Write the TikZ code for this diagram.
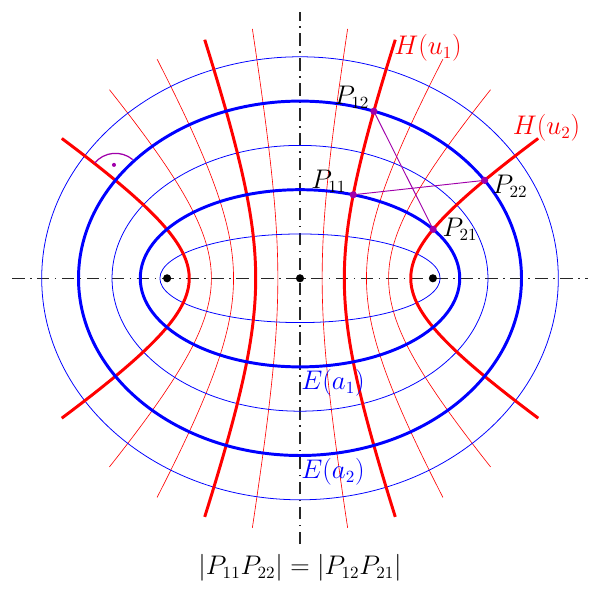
\documentclass[tikz,border=0pt]{standalone}
\definecolor{pur}{RGB}{160,0,170}
\begin{document}
\begin{tikzpicture}[
  thinE/.style={blue, line width=0.5pt},
  boldE/.style={blue, line width=1.9pt},
  thinH/.style={red, line width=0.4pt},
  boldH/.style={red, line width=1.9pt},
  axisline/.style={black!85, line width=0.75pt, dash pattern=on 8pt off 3.5pt on 1pt off 3.5pt},
  pdot/.style={circle, fill=pur, inner sep=0pt, minimum size=4.6pt},
  fdot/.style={circle, fill=black, inner sep=0pt, minimum size=5.2pt},
  rdot/.style={circle, fill=pur, inner sep=0pt, minimum size=2.6pt},
  purline/.style={pur, line width=0.6pt},
  lbl/.style={font=\fontsize{16}{19}\selectfont, inner sep=0pt},
]
\useasboundingbox (-6.772,-7.081) rectangle (6.772,6.282);

% axes
\coordinate (xl) at (-6.5,0);
\coordinate (xr) at (6.5,0);
\coordinate (yb) at (0,-6);
\coordinate (yt) at (0,6);
\draw[axisline] (xl) -- (xr);
\draw[axisline] (yb) -- (yt);

% thin hyperbolas
\foreach \u in {0.5,1,1.5,2,2.5} {
  \pgfmathsetmacro\v{sqrt(9-\u*\u)}
  \draw[thinH] plot[domain=-1.4:1.4, samples=60, smooth] ({\u*cosh(\x)}, {\v*sinh(\x)});
  \draw[thinH] plot[domain=-1.4:1.4, samples=60, smooth] ({-\u*cosh(\x)}, {\v*sinh(\x)});
}
% thin ellipses
\foreach \b in {1,2,3,4,5} {
  \pgfmathsetmacro\a{sqrt(9+\b*\b)}
  \draw[thinE] (0,0) ellipse [x radius=\a, y radius=\b];
}
% bold hyperbolas
\foreach \u in {1,2.5} {
  \pgfmathsetmacro\v{sqrt(9-\u*\u)}
  \draw[boldH] plot[domain=-1.4:1.4, samples=70, smooth] ({\u*cosh(\x)}, {\v*sinh(\x)});
  \draw[boldH] plot[domain=-1.4:1.4, samples=70, smooth] ({-\u*cosh(\x)}, {\v*sinh(\x)});
}
% bold ellipses
\foreach \b in {2,4} {
  \pgfmathsetmacro\a{sqrt(9+\b*\b)}
  \draw[boldE] (0,0) ellipse [x radius=\a, y radius=\b];
}

% foci and centre
\node[fdot] (f1) at (-3,0) {};
\node[fdot] (f2) at (3,0) {};
\node[fdot] (o) at (0,0) {};

% points
\coordinate (c11) at (1.20185,1.88562);
\coordinate (c12) at (1.66667,3.77124);
\coordinate (c21) at (3.00463,1.10554);
\coordinate (c22) at (4.16667,2.21108);
\draw[purline] (c11) -- (c22);
\draw[purline] (c12) -- (c21);
\node[pdot] (p11) at (c11) {};
\node[pdot] (p12) at (c12) {};
\node[pdot] (p21) at (c21) {};
\node[pdot] (p22) at (c22) {};

% right angle mark
\coordinate (q) at (-4.16667,2.21108);
\draw[pur, line width=0.8pt] ([shift={(50.33:0.61)}]q) arc[start angle=50.33, end angle=140.33, radius=0.61];
\node[rdot] (rd) at ([shift={(95.33:0.35)}]q) {};

% labels
\node[lbl, red] (hu1) at (2.89,5.2) {$H(u_1)$};
\node[lbl, red] (hu2) at (5.565,3.39) {$H(u_2)$};
\node[lbl] (l12) at (1.17,4.09) {$P_{12}$};
\node[lbl] (l11) at (0.65,2.20) {$P_{11}$};
\node[lbl] (l22) at (4.74,2.08) {$P_{22}$};
\node[lbl] (l21) at (3.61,1.11) {$P_{21}$};
\node[lbl, blue] (ea1) at (0.745,-2.36) {$E(a_1)$};
\node[lbl, blue] (ea2) at (0.745,-4.37) {$E(a_2)$};
\node[lbl] (eq) at (0,-6.53) {$|P_{11}P_{22}| = |P_{12}P_{21}|$};
\end{tikzpicture}
\end{document}
